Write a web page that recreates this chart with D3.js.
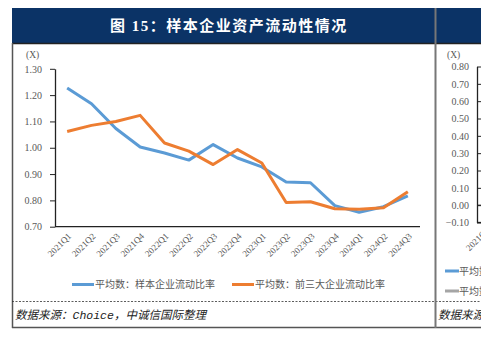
<!DOCTYPE html>
<html><head><meta charset="utf-8">
<script src="https://cdn.jsdelivr.net/npm/d3@7"></script>
<style>
html,body{margin:0;padding:0;background:#fff;}
svg{display:block;}
</style></head>
<body>
<svg id="c" width="481" height="344"></svg>
<script>
const categories = ["2021Q1","2021Q2","2021Q3","2021Q4","2022Q1","2022Q2","2022Q3","2022Q4","2023Q1","2023Q2","2023Q3","2023Q4","2024Q1","2024Q2","2024Q3"];
const sampleRatio = [1.227,1.167,1.073,1.003,0.980,0.953,1.012,0.961,0.927,0.870,0.867,0.780,0.755,0.776,0.817];
const top3Ratio = [1.062,1.085,1.100,1.123,1.018,0.987,0.936,0.993,0.942,0.792,0.795,0.768,0.766,0.772,0.833];
const seriesNames = ["平均数：样本企业流动比率","平均数：前三大企业流动比率"];
const yTicks = [0.70,0.80,0.90,1.00,1.10,1.20,1.30];
const rightTicks = [-0.10,0.00,0.10,0.20,0.30,0.40,0.50,0.60,0.70,0.80];
const titleText = "图 15：样本企业资产流动性情况";
const sourceText = "数据来源：Choice，中诚信国际整理";

const svg = d3.select("#c");
const navy = "#0b3366";
const gray = "#595959";
const serif = "'Liberation Serif','Times New Roman',serif";

// title bars
svg.append("rect").attr("x",12).attr("y",8).attr("width",469).attr("height",35).attr("fill",navy);
svg.append("text").attr("x",229).attr("y",31).attr("text-anchor","middle")
  .attr("fill","#fff").attr("font-family","'Liberation Serif','Noto Sans CJK SC',serif")
  .attr("font-size",15).attr("font-weight","bold").attr("letter-spacing",1.5).text(titleText);
svg.append("line").attr("x1",12).attr("x2",481).attr("y1",43.5).attr("y2",43.5).attr("stroke","#222").attr("stroke-width",1.5);

// frame
svg.append("line").attr("x1",12.5).attr("x2",12.5).attr("y1",43).attr("y2",328).attr("stroke","#555").attr("stroke-width",1.5);
svg.append("line").attr("x1",12).attr("x2",481).attr("y1",327.5).attr("y2",327.5).attr("stroke","#555").attr("stroke-width",1.5);
svg.append("line").attr("x1",12).attr("x2",481).attr("y1",301.5).attr("y2",301.5).attr("stroke","#333").attr("stroke-width",0.8).attr("stroke-dasharray","2,1.5");
svg.append("line").attr("x1",435.5).attr("x2",435.5).attr("y1",8).attr("y2",328).attr("stroke","#777").attr("stroke-width",2);

// source
svg.append("text").attr("x",15).attr("y",319).attr("fill","#222")
  .attr("font-family","'Liberation Mono','Noto Sans CJK SC',monospace").attr("font-style","italic")
  .attr("font-size",11.5).text(sourceText);
svg.append("text").attr("x",438).attr("y",319).attr("fill","#222")
  .attr("font-family","'Liberation Mono','Noto Sans CJK SC',monospace").attr("font-style","italic")
  .attr("font-size",11.5).text(sourceText);

// main chart
const x = d3.scalePoint().domain(categories).range([55,420]).padding(0.5);
const y = d3.scaleLinear().domain([0.70,1.30]).range([226.7,68.8]);

const yAxis = svg.append("g").attr("transform","translate(55,0)")
  .call(d3.axisLeft(y).tickValues(yTicks).tickFormat(d3.format(".2f")).tickSize(5).tickSizeOuter(0));
yAxis.select(".domain").attr("stroke","#222").attr("stroke-width",1.3);
yAxis.selectAll(".tick line").attr("stroke","#222");
yAxis.selectAll("text").attr("font-family",serif).attr("font-size",10).attr("fill",gray).attr("dx",-5);

const xAxis = svg.append("g").attr("transform","translate(0,226.7)")
  .call(d3.axisBottom(x).tickSize(0).tickSizeOuter(0));
xAxis.select(".domain").attr("d","M55,0H420").attr("stroke","#222").attr("stroke-width",1.3);
xAxis.selectAll("text").attr("font-family",serif).attr("font-size",9).attr("fill",gray)
  .attr("text-anchor","end").attr("dy",0).attr("transform","translate(2,8) rotate(-45)");

svg.append("text").attr("x",26).attr("y",58).attr("font-family",serif).attr("font-size",9.5).attr("fill",gray).text("(X)");

const line = d3.line().x((d,i)=>x(categories[i])).y(d=>y(d));
const colors = ["#5b9bd5","#ed7d31"];
[sampleRatio, top3Ratio].forEach((s,k)=>{
  svg.append("path").datum(s).attr("d",line).attr("fill","none")
    .attr("stroke",colors[k]).attr("stroke-width",3).attr("stroke-linejoin","round");
});

// legend
const leg = [{x:72,c:colors[0],t:seriesNames[0]},{x:232,c:colors[1],t:seriesNames[1]}];
leg.forEach(l=>{
  svg.append("line").attr("x1",l.x).attr("x2",l.x+22).attr("y1",284.5).attr("y2",284.5).attr("stroke",l.c).attr("stroke-width",3);
  svg.append("text").attr("x",l.x+23).attr("y",288).attr("font-family","'Noto Sans CJK SC',serif").attr("font-size",10).attr("fill",gray).text(l.t);
});

// right partial chart
const yR = d3.scaleLinear().domain([-0.10,0.80]).range([222.5,66.5]);
const rAxis = svg.append("g").attr("transform","translate(477,0)")
  .call(d3.axisLeft(yR).tickValues(rightTicks).tickFormat(d3.format(".2f")).tickSize(4).tickSizeOuter(0));
rAxis.select(".domain").attr("stroke","#222").attr("stroke-width",1.3);
rAxis.selectAll(".tick line").attr("stroke","#222").attr("transform","translate(4,0)");
rAxis.selectAll("text").attr("font-family",serif).attr("font-size",10).attr("fill",gray).attr("dx",-1);
svg.append("line").attr("x1",477).attr("x2",481).attr("y1",yR(0)).attr("y2",yR(0)).attr("stroke","#222").attr("stroke-width",1);
svg.append("line").attr("x1",477).attr("x2",481).attr("y1",yR(-0.10)).attr("y2",yR(-0.10)).attr("stroke","#222").attr("stroke-width",1.3);
svg.append("text").attr("x",447).attr("y",58).attr("font-family",serif).attr("font-size",9.5).attr("fill",gray).text("(X)");
svg.append("text").attr("font-family",serif).attr("font-size",9).attr("fill",gray)
  .attr("text-anchor","end").attr("transform","translate(490,231) rotate(-45)").text(categories[0]);
[{y:271,c:"#5b9bd5"},{y:291,c:"#a5a5a5"}].forEach(l=>{
  svg.append("line").attr("x1",445).attr("x2",459).attr("y1",l.y).attr("y2",l.y).attr("stroke",l.c).attr("stroke-width",3);
  svg.append("text").attr("x",459).attr("y",l.y+3.5).attr("font-family","'Noto Sans CJK SC',serif").attr("font-size",10).attr("fill",gray).text("平均数");
});
</script>
</body></html>
